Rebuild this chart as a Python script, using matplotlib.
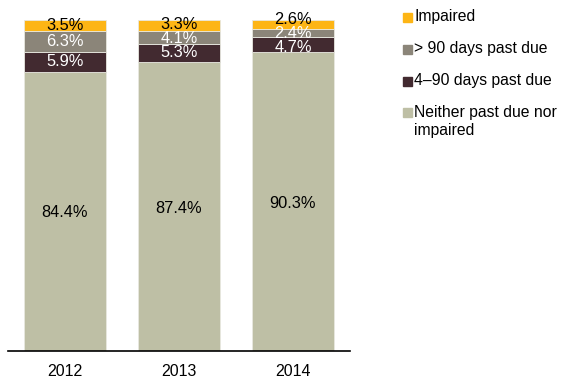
import numpy as np
import matplotlib
matplotlib.use("Agg")
import matplotlib.pyplot as plt
from matplotlib.patches import Rectangle

plt.rcParams['font.family'] = ['Liberation Sans', 'DejaVu Sans']

years = ['2012', '2013', '2014']
neither = [84.4, 87.4, 90.3]
days_4_90 = [5.9, 5.3, 4.7]
days_90 = [6.3, 4.1, 2.4]
impaired = [3.5, 3.3, 2.6]

series = [
    ('Neither past due nor\nimpaired', neither, '#bebfa5', 'black'),
    ('4\u201390 days past due', days_4_90, '#422a30', 'white'),
    ('> 90 days past due', days_90, '#8b8579', 'white'),
    ('Impaired', impaired, '#fdb515', 'black'),
]

fig = plt.figure(figsize=(5.61, 3.77), dpi=100)
ax = fig.add_axes([8/561, 26/377, 342/561, 331/377])

x = np.arange(len(years))
bottom = np.zeros(len(years))
centers = []
for name, vals, col, tcol in series:
    vals = np.array(vals)
    ax.bar(x, vals, 0.72, bottom=bottom, color=col, edgecolor='#e8e8e0', linewidth=0.6)
    centers.append(bottom + vals / 2)
    bottom = bottom + vals

# labels; small segments get pushed apart so the text doesn't overlap
min_gap = 4.2
for i in range(len(years)):
    ys = [c[i] for c in centers]
    pos = list(ys[1:])
    for _ in range(50):
        for k in range(len(pos) - 1):
            gap = pos[k + 1] - pos[k]
            if gap < min_gap:
                d = (min_gap - gap) / 2
                pos[k] -= d
                pos[k + 1] += d
    pos = [ys[0] - 0.5] + pos
    for (name, vals, col, tcol), y in zip(series, pos):
        ax.text(x[i], y, f'{vals[i]:.1f}%', ha='center', va='center',
                color=tcol, fontsize=11.8)

ax.set_xlim(-0.5, 2.5)
ax.set_ylim(0, 100)
ax.set_xticks(x)
ax.set_xticklabels(years, fontsize=11.5)
ax.tick_params(axis='x', length=0, pad=9)
ax.set_yticks([])
for s in ['top', 'right', 'left']:
    ax.spines[s].set_visible(False)
ax.spines['bottom'].set_linewidth(1.2)

# legend drawn by hand so the swatch lines up with the first text line
leg_y = [17, 49, 81, 112]
for (name, vals, col, tcol), yy in zip(series[::-1], leg_y):
    fig.patches.append(Rectangle((403/561, 1 - (yy + 4.5)/377), 9/561, 9/377,
                                 transform=fig.transFigure, color=col))
    first, *rest = name.split('\n')
    fig.text(414/561, 1 - yy/377, first, fontsize=11.3, va='center', ha='left')
    for j, line in enumerate(rest):
        fig.text(414/561, 1 - (yy + 18*(j + 1))/377, line, fontsize=11.3, va='center', ha='left')

fig.savefig('out.png', dpi=100)
